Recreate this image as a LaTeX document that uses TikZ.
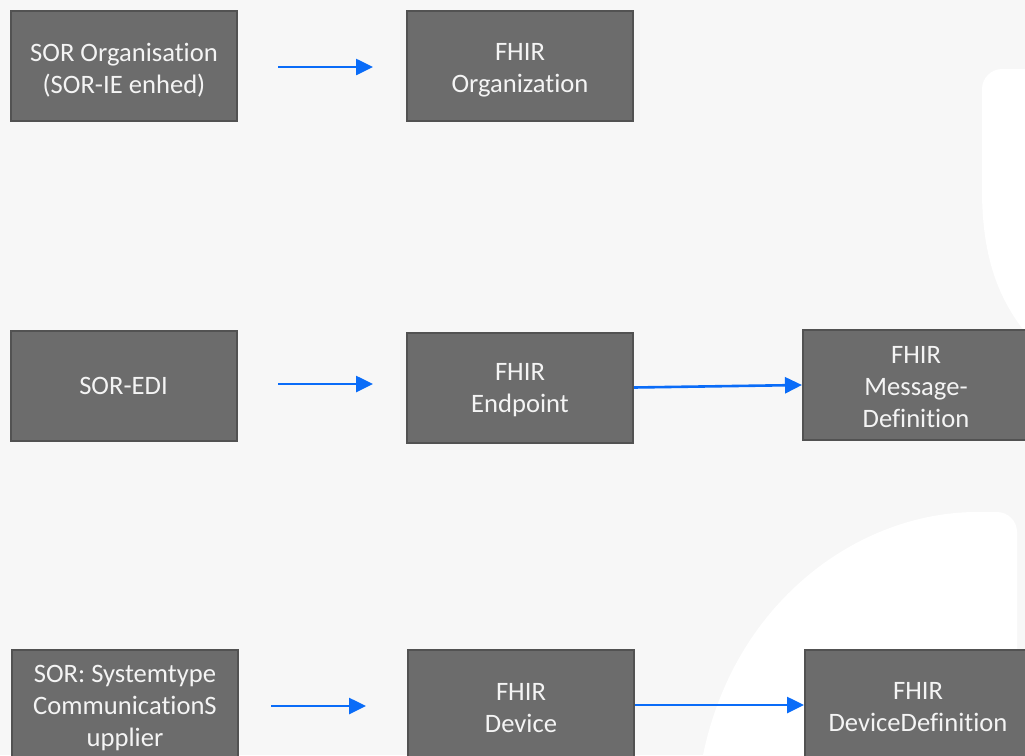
\documentclass[tikz,border=0pt]{standalone}
\usepackage{fontspec}
\setmainfont{Carlito}[Ligatures=NoCommon]
\usetikzlibrary{arrows.meta}
\definecolor{bg}{HTML}{F7F7F7}
\definecolor{boxfill}{HTML}{6C6C6C}
\definecolor{boxline}{HTML}{525252}
\definecolor{arr}{HTML}{0A6CF8}
\definecolor{txt}{HTML}{F4F4F4}
\begin{document}
\begin{tikzpicture}[x=1pt,y=-1pt,
  box/.style={draw=boxline, fill=boxfill, line width=2pt, minimum width=226pt, minimum height=110pt, inner sep=0pt},
  lbl/.style={text=txt, align=center, font=\fontsize{26.6}{32}\selectfont, inner sep=0pt},
  link/.style={draw=arr, line width=2.6pt, -{Triangle[length=17pt,width=16pt]}}]
\useasboundingbox (0,0) rectangle (1025,755);
\clip (0,0) rectangle (1025,755);
\fill[bg] (0,0) rectangle (1025,755);
\fill[white] (1025,69) -- (1002,69) .. controls (991,69) and (982,78) .. (982,89) -- (982,190) .. controls (982,260) and (1000,300) .. (1025,332) -- cycle;
\fill[white] (703,755) .. controls (735,600) and (860,512) .. (977,512) -- (997,512) .. controls (1008,512) and (1017,521) .. (1017,532) -- (1017,755) -- cycle;

\node[box] (sororg) at (124,66) {};
\node[box] (fhirorg) at (520,66) {};
\node[box] (soredi) at (123.5,386) {};
\node[box] (ep) at (520,387.5) {};
\node[box] (msg) at (916,385) {};
\node[box] (sys) at (125,705) {};
\node[box] (dev) at (521,705) {};
\node[box] (dd) at (918,705) {};

\node[lbl] (sororgt) at ([yshift=-4pt]sororg.center) {SOR Organisation\\(SOR-IE enhed)};
\node[lbl] (fhirorgt) at ([yshift=-4pt]fhirorg.center) {FHIR\\Organization};
\node[lbl] (soredit) at (soredi.center) {SOR-EDI};
\node[lbl] (ept) at ([yshift=-3pt]ep.center) {FHIR\\Endpoint};
\node[lbl] (msgt) at ([yshift=-2pt]msg.center) {FHIR\\Message-\\Definition};
\node[lbl] (syst) at ([yshift=-3pt]sys.center) {SOR: Systemtype\\CommunicationS\\upplier};
\node[lbl] (devt) at ([yshift=-3pt]dev.center) {FHIR\\Device};
\node[lbl] (ddt) at ([yshift=-2.5pt]dd.center) {FHIR\\DeviceDefinition};

\coordinate (a1s) at (278,67); \coordinate (a1e) at (373,67);
\coordinate (a2s) at (278,384); \coordinate (a2e) at (373,384);
\coordinate (a3s) at (271,706); \coordinate (a3e) at (366,706);
\draw[link] (a1s) -- (a1e);
\draw[link] (a2s) -- (a2e);
\draw[link] (a3s) -- (a3e);
\draw[link] (ep.east) -- (msg.west);
\draw[link] (dev.east) -- (dd.west);
\end{tikzpicture}
\end{document}
